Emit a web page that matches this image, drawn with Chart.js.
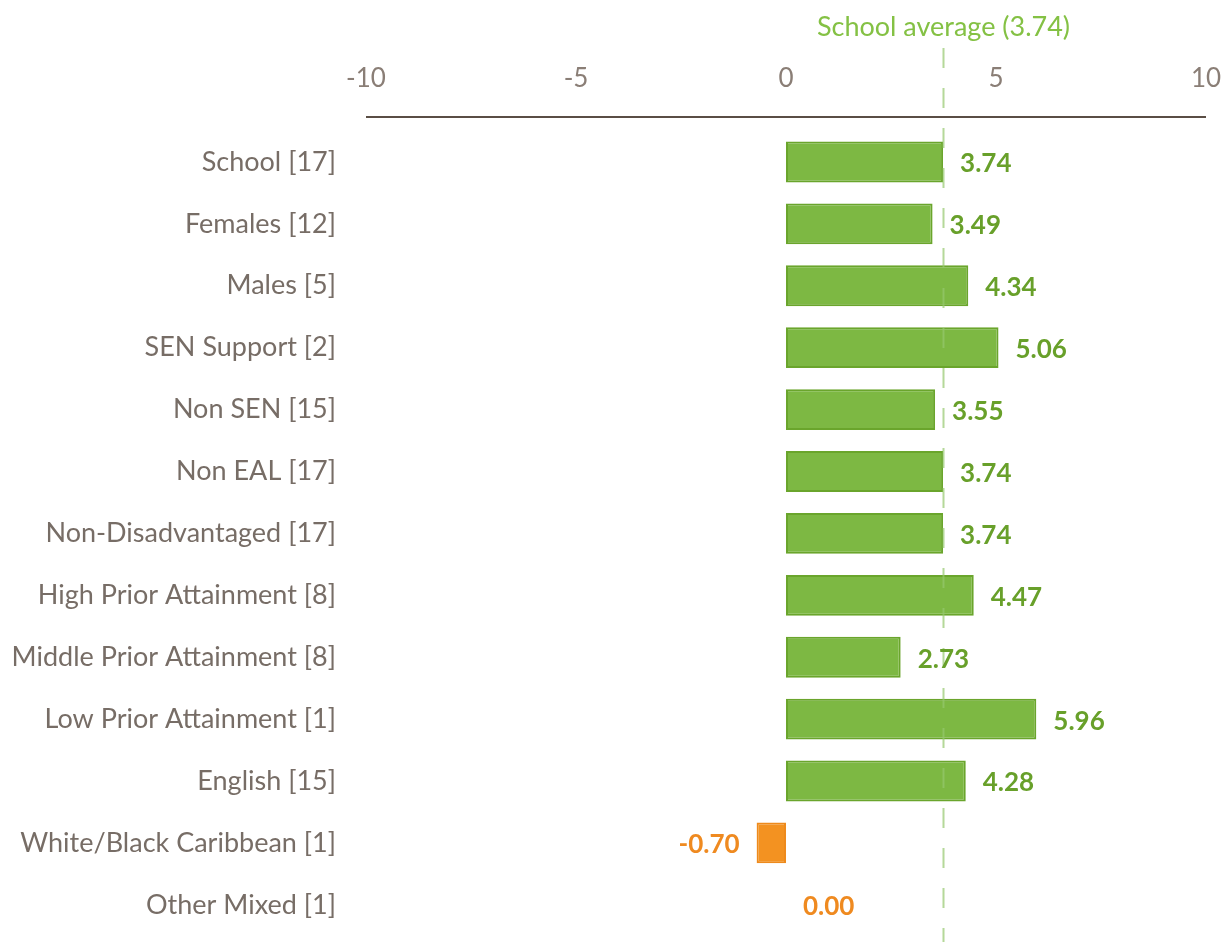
<!DOCTYPE html>
<html>
<head>
<meta charset="utf-8">
<script src="https://cdn.jsdelivr.net/npm/chart.js@4"></script>
<style>
  html, body { margin: 0; padding: 0; background: #fff; }
  #wrap { width: 1230px; height: 942px; position: relative; }
</style>
</head>
<body>
<div id="wrap"><canvas id="groupChart"></canvas></div>
<script>
const groups = [
  "School [17]", "Females [12]", "Males [5]", "SEN Support [2]", "Non SEN [15]",
  "Non EAL [17]", "Non-Disadvantaged [17]", "High Prior Attainment [8]",
  "Middle Prior Attainment [8]", "Low Prior Attainment [1]", "English [15]",
  "White/Black Caribbean [1]", "Other Mixed [1]"
];
const scores = [3.74, 3.49, 4.34, 5.06, 3.55, 3.74, 3.74, 4.47, 2.73, 5.96, 4.28, -0.70, 0.00];
const schoolAverage = 3.74;
const xTicks = [-10, -5, 0, 5, 10];

const GREEN = "#7db843", GREEN_EDGE = "#6aa52c", GREEN_TEXT = "#68a02a";
const ORANGE = "#f39221", ORANGE_EDGE = "#ee8a1c", ORANGE_TEXT = "#ef8a20";
const FONT = "Lato, 'Open Sans', sans-serif";

// top axis line sits a little above the plot area
const axisLine = {
  id: "axisLine",
  afterDraw(chart) {
    const { ctx, chartArea } = chart;
    ctx.save();
    ctx.strokeStyle = "#5a4e45";
    ctx.lineWidth = 2;
    ctx.beginPath();
    ctx.moveTo(chartArea.left, chartArea.top - 14);
    ctx.lineTo(chartArea.right, chartArea.top - 14);
    ctx.stroke();
    ctx.restore();
  }
};

const averageLine = {
  id: "averageLine",
  afterDatasetsDraw(chart) {
    const { ctx, scales } = chart;
    const x = Math.round(scales.x.getPixelForValue(schoolAverage)) + 0.5;
    ctx.save();
    ctx.strokeStyle = "rgba(150, 200, 110, 0.7)";
    ctx.lineWidth = 2;
    ctx.setLineDash([20, 20]);
    ctx.beginPath();
    ctx.moveTo(x, 48);
    ctx.lineTo(x, chart.height);
    ctx.stroke();
    ctx.setLineDash([]);
    ctx.fillStyle = "#84c144";
    ctx.font = "27px " + FONT;
    ctx.textAlign = "center";
    ctx.textBaseline = "middle";
    ctx.fillText("School average (" + schoolAverage.toFixed(2) + ")", x, 27);
    ctx.restore();
  }
};

const valueLabels = {
  id: "valueLabels",
  afterDatasetsDraw(chart) {
    const { ctx } = chart;
    const meta = chart.getDatasetMeta(0);
    ctx.save();
    ctx.font = "bold 26px " + FONT;
    ctx.textBaseline = "middle";
    meta.data.forEach((bar, i) => {
      const v = scores[i];
      ctx.fillStyle = v > 0 ? GREEN_TEXT : ORANGE_TEXT;
      if (v < 0) {
        ctx.textAlign = "right";
        ctx.fillText(v.toFixed(2), bar.x - 17, bar.y + 2);
      } else {
        ctx.textAlign = "left";
        ctx.fillText(v.toFixed(2), bar.x + 17, bar.y + 2);
      }
    });
    ctx.restore();
  }
};

new Chart(document.getElementById("groupChart"), {
  type: "bar",
  data: {
    labels: groups,
    datasets: [{
      data: scores,
      backgroundColor: scores.map(v => v > 0 ? GREEN : ORANGE),
      borderColor: scores.map(v => v > 0 ? GREEN_EDGE : ORANGE_EDGE),
      borderWidth: 2,
      borderSkipped: false,
      barPercentage: 0.66,
      categoryPercentage: 1
    }]
  },
  options: {
    indexAxis: "y",
    responsive: true,
    maintainAspectRatio: false,
    animation: false,
    layout: { padding: { top: 65, right: 24, bottom: 5, left: 0 } },
    plugins: {
      legend: { display: false },
      tooltip: { enabled: false }
    },
    scales: {
      x: {
        position: "top",
        min: -10,
        max: 10,
        afterBuildTicks(scale) {
          scale.ticks = xTicks.map(v => ({ value: v }));
        },
        afterFit(scale) { scale.height = 66; },
        grid: { display: false, drawTicks: true, tickLength: 37 },
        border: { display: false },
        ticks: {
          padding: 0,
          maxRotation: 0,
          color: "#8a7e76",
          font: { family: FONT, size: 26 }
        }
      },
      y: {
        afterFit(scale) { scale.width = 366; },
        grid: { display: false, drawTicks: true, tickLength: 40 },
        border: { display: false },
        ticks: {
          padding: -10,
          color: "#776d66",
          font: { family: FONT, size: 27 }
        }
      }
    }
  },
  plugins: [axisLine, averageLine, valueLabels]
});
</script>
</body>
</html>
